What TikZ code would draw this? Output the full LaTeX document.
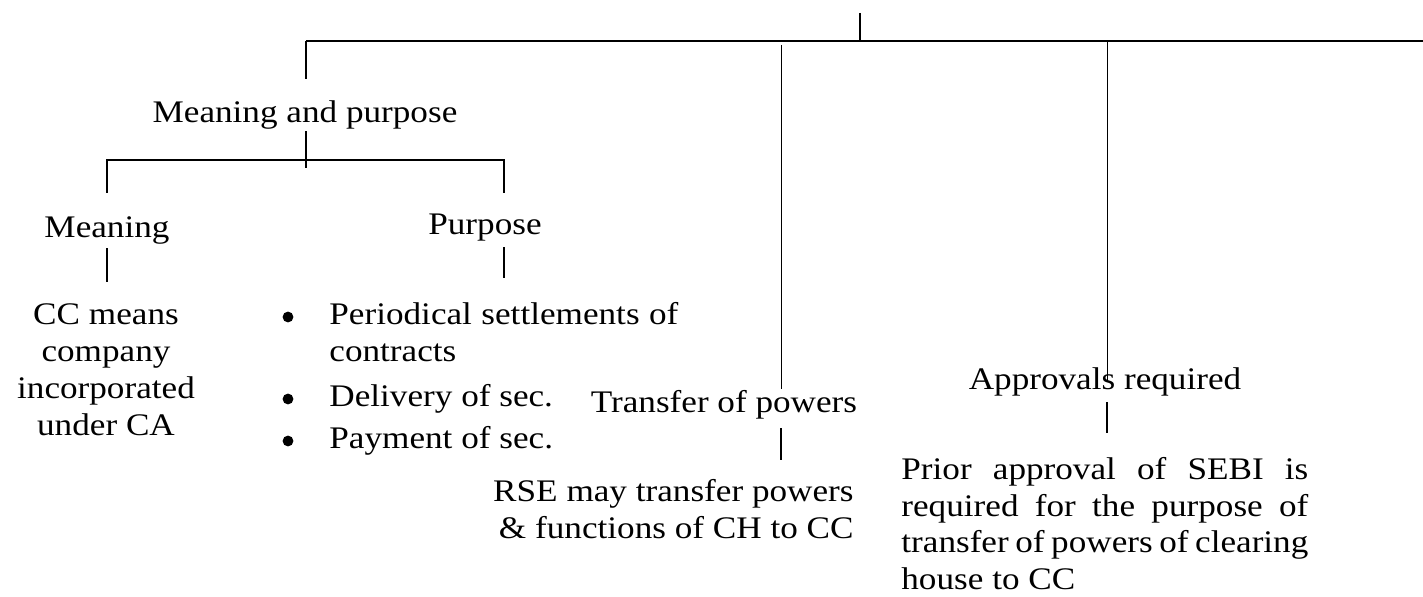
\documentclass[tikz,border=0pt]{standalone}
\usepackage{fontspec}
\setmainfont{Liberation Serif}[FakeStretch=1.12]
\usetikzlibrary{positioning}
\newcommand{\lblfont}{\fontsize{15.7pt}{18.5pt}\selectfont}

\begin{document}
\begin{tikzpicture}[x=0.5pt, y=-0.5pt,
        every node/.style={inner sep=0pt, text height=11pt, text depth=3pt, font=\lblfont},
        dot/.style={circle, fill=black, text height=0pt, text depth=0pt, minimum size=5.4pt},
        ln/.style={line width=0.6pt}, bar/.style={line width=1pt}, hair/.style={line width=0.5pt}]
    \useasboundingbox (0,0) rectangle (1423,597);
    % top bar and its branch points
    \coordinate (root) at (860,13);
    \coordinate (rj) at (860,41);
    \coordinate (j1) at (306,41);
    \coordinate (jend) at (1423,41);
    \coordinate (c1) at (781,45);
    \coordinate (c2) at (1107,41);
    \draw[bar] (root) -- (rj);
    \draw[bar] (j1) -- (jend);

    % meaning and purpose
    \node[anchor=base] (mp) at (305,123) {Meaning and purpose};
    \draw[ln, shorten >=11pt] (j1) -- (j1 |- mp.north);
    \coordinate (j2) at (306,168);
    \coordinate (ml) at (107,160);
    \coordinate (mr) at (504,160);
    \coordinate[below=16.5pt of ml] (mlb);
    \coordinate[below=16.5pt of mr] (mrb);
    \draw[ln, shorten <=1pt] (j2 |- mp.south) -- (j2);
    \draw[ln] (mlb) -- (ml) -- (mr) -- (mrb);

    \node[anchor=base] (mean) at (107,238) {Meaning};
    \node[anchor=base] (purp) at (485,235) {Purpose};

    \foreach \t [count=\i] in {CC means, company, incorporated, under CA}
        \node[anchor=base] (cc\i) at (106,288+37*\i) {\t};
    \draw[ln, shorten <=2pt, shorten >=10.5pt] (mean.south) -- (mean.south |- cc1.north);

    \coordinate (pd) at (504,278);
    \draw[ln, shorten <=3pt] (purp.south -| pd) -- (pd);
    \foreach \y/\n in {317/b1, 399/b2, 441/b3}
        \node[dot] (\n) at (288,\y) {};
    \node[anchor=base west] (it1) at (329,325) {\makebox[174.5pt][s]{Periodical settlements of}};
    \node[anchor=base west] (it1b) at (329,362) {contracts};
    \node[anchor=base west] (it2) at (329,407) {Delivery of sec.};
    \node[anchor=base west] (it3) at (329,449) {Payment of sec.};

    % transfer of powers
    \node[anchor=base] (tp) at (724,413) {Transfer of powers};
    \draw[hair, shorten >=1pt] (c1) -- (tp.north -| c1);
    \node[anchor=base east] (rse1) at (854,502) {RSE may transfer powers};
    \node[anchor=base east] (rse2) at (854,539) {\& functions of CH to CC};
    \draw[ln, shorten <=4.5pt, shorten >=10pt] (tp.south -| c1) -- (rse1.north -| c1);

    % approvals required
    \node[anchor=base] (ap) at (1105,390) {Approvals required};
    \draw[hair] (c2) -- (c2 |- ap.center);
    \node[anchor=base west] (pr1) at (901,480) {\makebox[203.5pt][s]{Prior approval of SEBI is}};
    \node[anchor=base west] (pr2) at (901,517) {\makebox[203.5pt][s]{required for the purpose of}};
    \node[anchor=base west] (pr3) at (901,553) {\makebox[203.5pt][s]{transfer of powers of clearing}};
    \node[anchor=base west] (pr4) at (901,590) {house to CC};
    \draw[ln, shorten <=3pt, shorten >=12.5pt] (ap.south -| c2) -- (pr1.north -| c2);
\end{tikzpicture}
\end{document}
